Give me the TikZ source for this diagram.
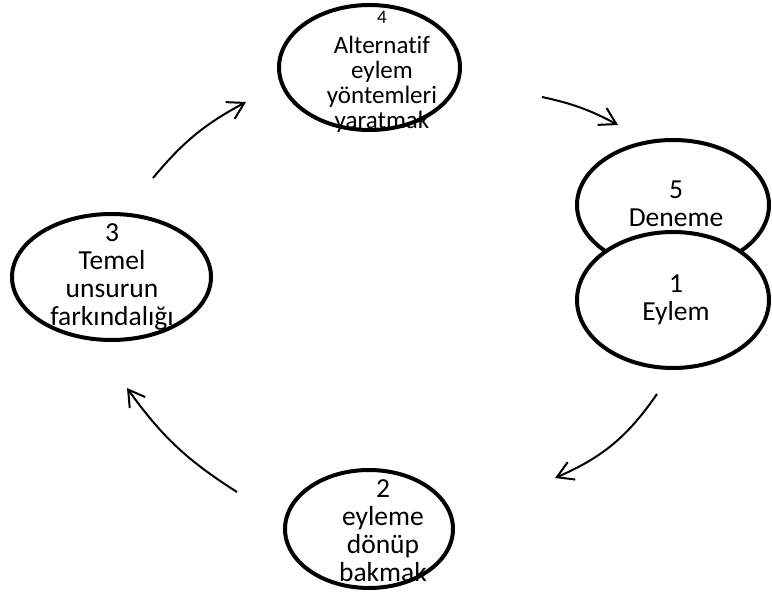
\documentclass[tikz,border=0pt]{standalone}
\usepackage{fontspec}
\setmainfont{Carlito}[Ligatures=NoCommon]
\usetikzlibrary{shapes.geometric,arrows.meta}
\begin{document}
\begin{tikzpicture}[x=1pt,y=-1pt,
  oval/.style={ellipse, draw=black, line width=4pt, fill=white, inner sep=0pt},
  lbl/.style={align=center, inner sep=0pt, anchor=north, font=\fontsize{27.5}{28}\selectfont},
  smalllbl/.style={lbl, font=\fontsize{25}{25}\selectfont},
  flow/.style={line width=2pt, -{Straight Barb[length=16pt,width=19pt]}}]
\useasboundingbox (0,0) rectangle (772,601);

% stages of the cycle
\node[oval, minimum width=181pt, minimum height=125pt] (e4) at (369.5,67.5) {};
\node[oval, minimum width=192pt, minimum height=130pt] (e5) at (673,205) {};
\node[oval, minimum width=192pt, minimum height=136pt] (e1) at (673,300) {};
\node[oval, minimum width=199pt, minimum height=126pt] (e3) at (111.5,277) {};
\node[oval, minimum width=168pt, minimum height=118pt] (e2) at (369,529) {};

% stage texts
\node[smalllbl] (t4) at (382,11) {{\fontsize{19}{20}\selectfont 4}\\[5pt]Alternatif\\eylem\\yöntemleri\\yaratmak};
\node[lbl] (t5) at (676,181) {5\\Deneme};
\node[lbl] (t1) at (676,275) {1\\Eylem};
\node[lbl] (t3) at (112,223) {3\\Temel\\unsurun\\farkındalığı};
\node[lbl] (t2) at (383,479) {2\\eyleme\\dönüp\\bakmak};

% arrow ends
\coordinate (a34s) at (153,178);
\coordinate (a34e) at (246,102);
\coordinate (a45s) at (542,97);
\coordinate (a45e) at (618,125);
\coordinate (a12s) at (657,394);
\coordinate (a12e) at (555,478);
\coordinate (a23s) at (237,492);
\coordinate (a23e) at (127,388);

% clockwise arrows, bowed outwards
\draw[flow] (a34s) to[bend left=11] (a34e);
\draw[flow] (a45s) to[bend left=8] (a45e);
\draw[flow] (a12s) to[bend left=16] (a12e);
\draw[flow] (a23s) to[bend left=11] (a23e);
\end{tikzpicture}
\end{document}
